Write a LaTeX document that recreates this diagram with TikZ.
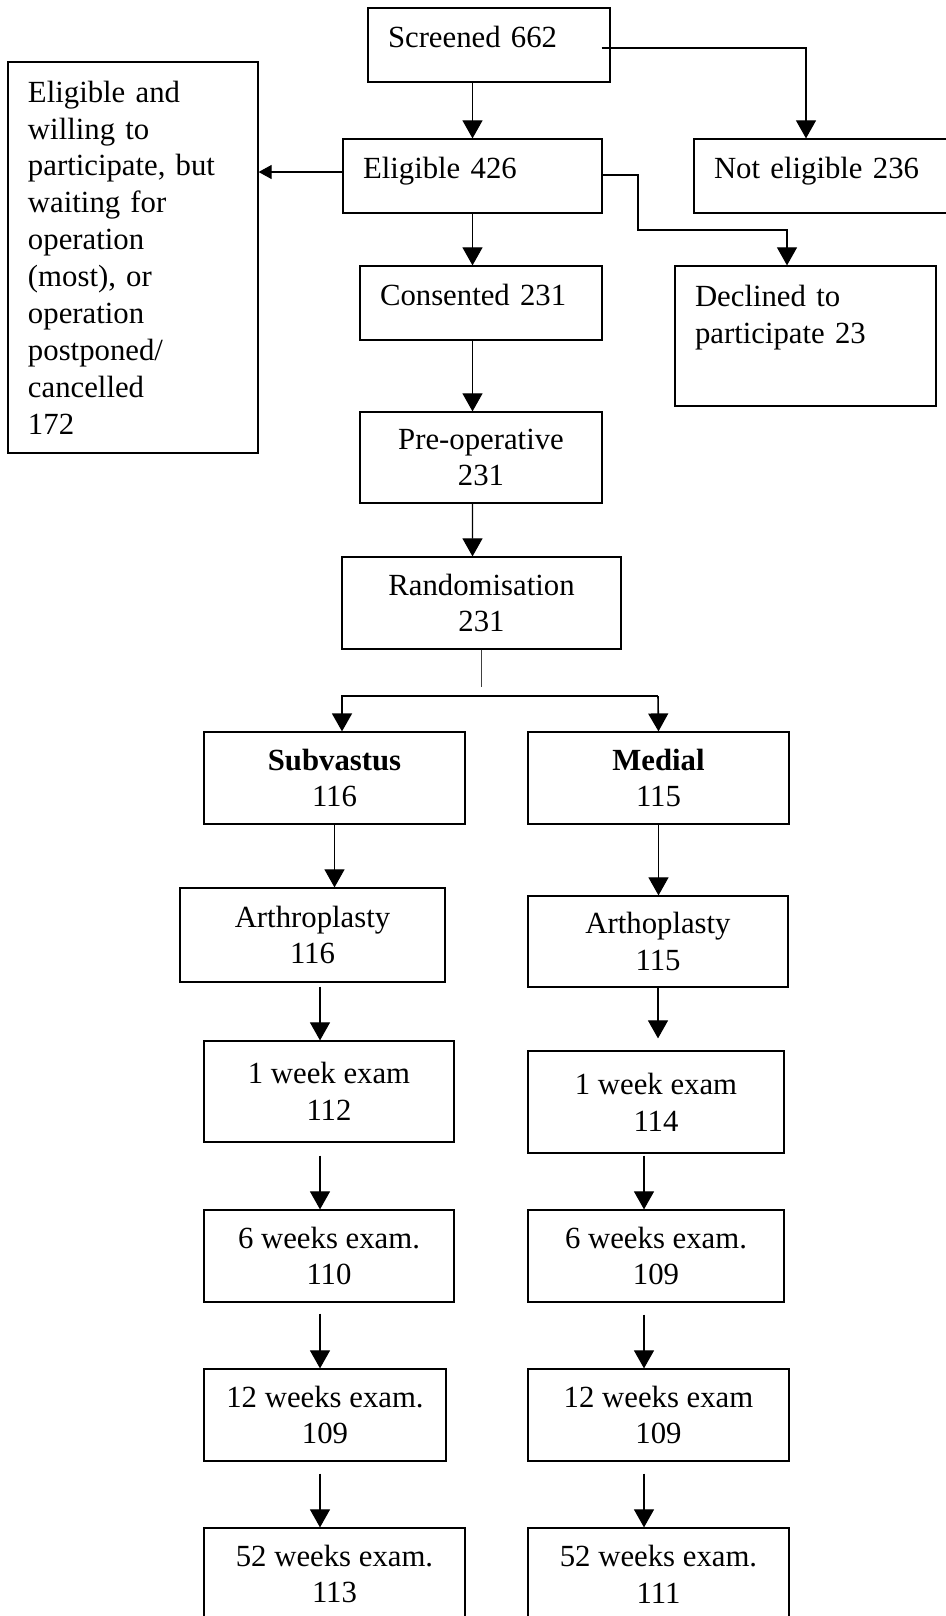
\documentclass[tikz,border=0pt]{standalone}
\usepackage{fontspec}
\setmainfont{Liberation Serif}
\usepackage{tikz}
\usetikzlibrary{arrows.meta, calc}
\tikzset{
  cell/.style={rectangle, draw=black, line width=0.7pt, fill=white,
    font=\fontsize{17.5}{21}\selectfont, inner xsep=0.4cm, inner ysep=0pt},
  cell/lft/.style={cell, align=left},
  cell/mid/.style={cell, align=center},
  ar/.style={-{Triangle[length=0.36cm, width=0.40cm]}, draw=black, line width=0.6pt},
  ar/small/.style={-{Triangle[length=0.26cm, width=0.28cm]}, draw=black, line width=0.6pt},
  lnk/.style={draw=black!75, line width=0.45pt},
}

\begin{document}
\begin{tikzpicture}
\useasboundingbox (0,0) rectangle (18.9,-32.32);

% screening
\node[cell/lft, text width=4.04cm, minimum height=1.48cm, text depth=0.32cm] (scr) at (9.78,-0.90) {Screened 662};
\node[cell/lft, text width=4.38cm, minimum height=1.48cm, text depth=0.32cm] (elig) at (9.45,-3.52) {Eligible 426};
\node[cell/lft, text width=4.28cm, minimum height=1.48cm, text depth=0.32cm] (notel) at (16.42,-3.52) {Not eligible 236};
\node[cell/lft, text width=4.20cm, minimum height=7.82cm] (wait) at (2.66,-5.15) {Eligible and\\willing to\\participate, but\\waiting for\\operation\\(most), or\\operation\\postponed/\\cancelled\\172};
\node[cell/lft, text width=4.04cm, minimum height=1.48cm, text depth=0.32cm] (cons) at (9.62,-6.06) {Consented 231};
\node[cell/lft, text width=4.42cm, minimum height=2.80cm, text depth=1.62cm] (decl) at (16.11,-6.72) {Declined to\\participate 23};

\node[cell/mid, minimum width=4.84cm, minimum height=1.82cm] (preop) at (9.62,-9.15) {Pre-operative\\231};
\node[cell/mid, minimum width=5.58cm, minimum height=1.84cm] (rand) at (9.63,-12.06) {Randomisation\\231};

% two arms
\node[cell/mid, minimum width=5.22cm, minimum height=1.84cm] (subv) at (6.69,-15.56) {\textbf{Subvastus}\\116};
\node[cell/mid, minimum width=5.22cm, minimum height=1.84cm] (med) at (13.17,-15.56) {\textbf{Medial}\\115};
\node[cell/mid, minimum width=5.30cm, minimum height=1.88cm] (arthL) at (6.25,-18.70) {Arthroplasty\\116};
\node[cell/mid, minimum width=5.20cm, minimum height=1.82cm] (arthR) at (13.16,-18.83) {Arthoplasty\\115};
\node[cell/mid, minimum width=5.00cm, minimum height=2.02cm] (wk1L) at (6.58,-21.83) {1 week exam\\112};
\node[cell/mid, minimum width=5.12cm, minimum height=2.04cm] (wk1R) at (13.12,-22.04) {1 week exam\\114};
\node[cell/mid, minimum width=5.00cm, minimum height=1.84cm] (wk6L) at (6.58,-25.12) {6 weeks exam.\\110};
\node[cell/mid, minimum width=5.12cm, minimum height=1.84cm] (wk6R) at (13.12,-25.12) {6 weeks exam.\\109};
\node[cell/mid, minimum width=4.84cm, minimum height=1.84cm] (wk12L) at (6.50,-28.30) {12 weeks exam.\\109};
\node[cell/mid, minimum width=5.22cm, minimum height=1.84cm] (wk12R) at (13.17,-28.30) {12 weeks exam\\109};
\node[cell/mid, minimum width=5.22cm, minimum height=1.84cm] (wk52L) at (6.69,-31.48) {52 weeks exam.\\113};
\node[cell/mid, minimum width=5.22cm, minimum height=1.84cm] (wk52R) at (13.17,-31.48) {52 weeks exam.\\111};

\coordinate (e1) at ([yshift=0.08cm]elig.west);
\coordinate (stem) at (9.63,-13.74);
\coordinate (forkL) at (6.84,-13.92);
\coordinate (forkR) at (13.16,-13.92);
\coordinate (colL) at (6.40,0);
\coordinate (colR) at (12.88,0);

\draw[ar] ([xshift=-0.18cm,yshift=-0.06cm]scr.east) -| ([xshift=-0.3cm]notel.north);
\draw[ar] (scr.south -| elig.north) -- (elig.north);
\draw[ar/small] (e1) -- (e1 -| wait.east);
\draw[ar] ([xshift=-0.02cm,yshift=0.02cm]elig.east) -| (12.76,-4.60) -| ([xshift=-0.37cm]decl.north);
\draw[ar] (elig.south) -- (elig.south |- cons.north);
\draw[ar] ([xshift=-0.17cm]cons.south) -- ([xshift=-0.17cm]preop.north);
\draw[ar] ([xshift=-0.17cm]preop.south) -- ([xshift=-0.18cm]rand.north);

\draw[lnk] (rand.south) -- (stem);
\draw[ar, line width=0.9pt] (forkR) -- (forkL) -- (forkL |- subv.north);
\draw[ar, line width=0.9pt] (forkR) -- (med.north);

\draw[ar] (subv.south) -- (subv.south |- arthL.north);
\draw[ar, shorten <=0.08cm] (arthL.south -| colL) -- (wk1L.north -| colL);
\draw[ar, shorten <=0.26cm] (wk1L.south -| colL) -- (wk6L.north -| colL);
\draw[ar, shorten <=0.22cm] (wk6L.south -| colL) -- (wk12L.north -| colL);
\draw[ar, shorten <=0.24cm] (wk12L.south -| colL) -- (wk52L.north -| colL);

\draw[ar] (med.south) -- (med.south |- arthR.north);
\draw[ar, shorten >=0.24cm] (arthR.south) -- (arthR.south |- wk1R.north);
\draw[ar, shorten <=0.04cm] (wk1R.south -| colR) -- (wk6R.north -| colR);
\draw[ar, shorten <=0.24cm] (wk6R.south -| colR) -- (wk12R.north -| colR);
\draw[ar, shorten <=0.24cm] (wk12R.south -| colR) -- (wk52R.north -| colR);
\end{tikzpicture}
\end{document}
